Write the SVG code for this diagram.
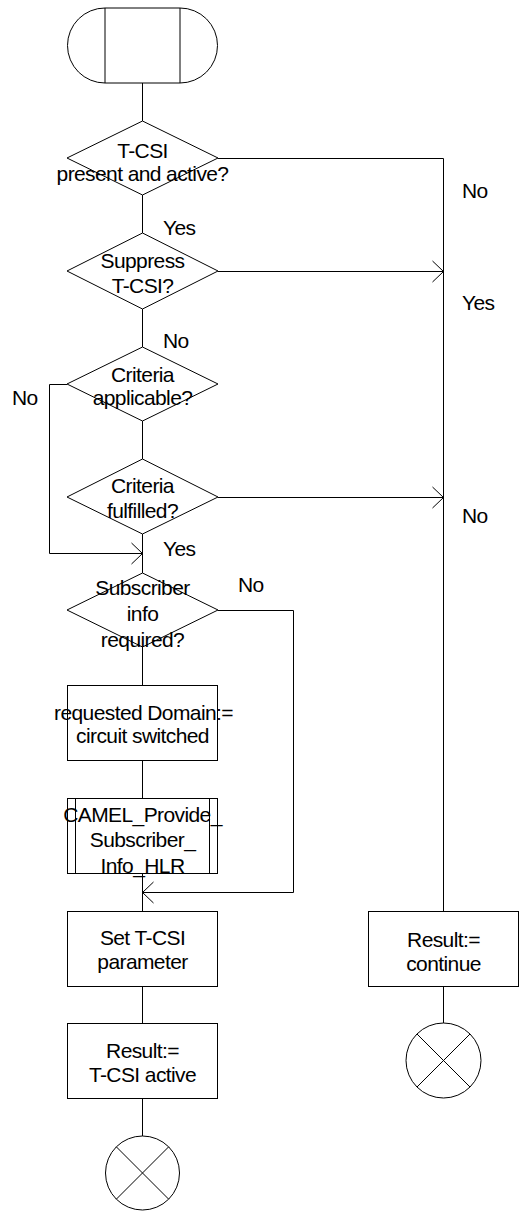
<svg xmlns="http://www.w3.org/2000/svg" width="520" height="1212" viewBox="0 0 520 1212">
<style>
.s{fill:#fff;stroke:#000;stroke-width:1}
.c{fill:none;stroke:#000;stroke-width:1}
text{font-family:"Liberation Sans",Arial,sans-serif;font-size:21px;letter-spacing:-0.6px;fill:#000}
.m{text-anchor:middle}
</style>
<defs>
<marker id="ah" viewBox="-12 -12 14 24" markerWidth="14" markerHeight="24" refX="0" refY="0" orient="auto" markerUnits="userSpaceOnUse">
<path d="M-11,-10.5 L0,0 L-11,10.5" fill="none" stroke="#000" stroke-width="1"/>
</marker>
</defs>
<g id="connectors" class="c">
<path d="M142.5,83 V121"/>
<path d="M142.5,195 V233"/>
<path d="M142.5,309 V347"/>
<path d="M142.5,421 V459"/>
<path d="M142.5,534 V573"/>
<path d="M142.5,647 V685"/>
<path d="M142.5,760 V798"/>
<path d="M142.5,873 V911"/>
<path d="M142.5,986 V1023"/>
<path d="M142.5,1098 V1136"/>
<path d="M218,158.5 H443.5 V911"/>
<path d="M218,271.5 H443.5" marker-end="url(#ah)"/>
<path d="M218,497.5 H443.5" marker-end="url(#ah)"/>
<path d="M67,384.5 H49.5 V553.5 H142.5" marker-end="url(#ah)"/>
<path d="M218,610.5 H293.5 V892.5 H142.5" marker-end="url(#ah)"/>
<path d="M443.5,986 V1023"/>
</g>
<g id="start">
<path class="s" d="M105,8 H180 A37.5,37.5 0 0 1 180,83 H105 A37.5,37.5 0 0 1 105,8 Z"/>
<path class="c" d="M105,8 V83 M180,8 V83"/>
</g>
<g id="d1">
<path class="s" d="M142.5,121 L218,158 L142.5,195 L67,158 Z"/>
<text class="m" x="142.5" y="158">T-CSI</text>
<text class="m" x="142.5" y="181">present and active?</text>
</g>
<g id="d2">
<path class="s" d="M142.5,233 L218,271 L142.5,309 L67,271 Z"/>
<text class="m" x="142.5" y="268">Suppress</text>
<text class="m" x="142.5" y="293">T-CSI?</text>
</g>
<g id="d3">
<path class="s" d="M142.5,347 L218,384 L142.5,421 L67,384 Z"/>
<text class="m" x="142.5" y="382">Criteria</text>
<text class="m" x="142.5" y="405">applicable?</text>
</g>
<g id="d4">
<path class="s" d="M142.5,459 L218,497 L142.5,534 L67,497 Z"/>
<text class="m" x="142.5" y="493">Criteria</text>
<text class="m" x="142.5" y="518">fulfilled?</text>
</g>
<g id="d5">
<path class="s" d="M142.5,573 L218,610 L142.5,647 L67,610 Z"/>
<text class="m" x="142.5" y="595">Subscriber</text>
<text class="m" x="142.5" y="621">info</text>
<text class="m" x="142.5" y="647">required?</text>
</g>
<g id="domain">
<rect class="s" x="67.5" y="685.5" width="150" height="75"/>
<text class="m" x="143.5" y="720">requested Domain:=</text>
<text class="m" x="142.5" y="743">circuit switched</text>
</g>
<g id="camel">
<rect class="s" x="67.5" y="798.5" width="150" height="75"/>
<path class="c" d="M75.5,798.5 V873.5 M209.5,798.5 V873.5"/>
<text class="m" x="142.5" y="822">CAMEL_Provide_</text>
<text class="m" x="142.5" y="847">Subscriber_</text>
<text class="m" x="142.5" y="873">Info_HLR</text>
</g>
<g id="setparam">
<rect class="s" x="67.5" y="911.5" width="150" height="75"/>
<text class="m" x="142.5" y="945">Set T-CSI</text>
<text class="m" x="142.5" y="969">parameter</text>
</g>
<g id="resactive">
<rect class="s" x="67.5" y="1023.5" width="150" height="75"/>
<text class="m" x="142.5" y="1058">Result:=</text>
<text class="m" x="142.5" y="1082">T-CSI active</text>
</g>
<g id="end1">
<circle class="s" cx="142.5" cy="1173" r="37"/>
<path class="c" d="M116.3,1146.8 L168.7,1199.2 M168.7,1146.8 L116.3,1199.2"/>
</g>
<g id="rescontinue">
<rect class="s" x="368.5" y="911.5" width="150" height="75"/>
<text class="m" x="443.5" y="947">Result:=</text>
<text class="m" x="443.5" y="971">continue</text>
</g>
<g id="end2">
<circle class="s" cx="443.5" cy="1060.5" r="37.5"/>
<path class="c" d="M417,1034 L470,1087 M470,1034 L417,1087"/>
</g>
<g id="labels">
<text x="462" y="198">No</text>
<text x="163" y="235">Yes</text>
<text x="462" y="310">Yes</text>
<text x="163" y="348">No</text>
<text x="12" y="405">No</text>
<text x="462" y="523">No</text>
<text x="163" y="556">Yes</text>
<text x="238" y="592">No</text>
</g>
</svg>
